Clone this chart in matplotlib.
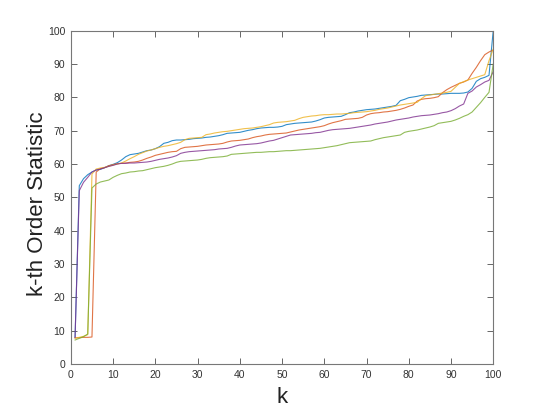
import matplotlib
matplotlib.use('Agg')
import matplotlib.pyplot as plt
import numpy as np

# sorted samples, one list per run (k = 1..100)
k = list(range(1, 101))

run_blue = [
    8.0, 53.5, 55.6, 56.8, 57.6, 58.2, 58.4, 58.9, 59.5, 59.9,
    60.4, 61.2, 62.2, 62.8, 63.0, 63.2, 63.6, 64.0, 64.2, 64.6,
    65.2, 66.2, 66.5, 67.0, 67.2, 67.2, 67.3, 67.4, 67.6, 67.7,
    67.8, 68.0, 68.1, 68.3, 68.5, 68.8, 69.2, 69.3, 69.4, 69.5,
    69.8, 70.1, 70.3, 70.6, 70.8, 70.9, 71.0, 71.0, 71.1, 71.3,
    71.8, 72.0, 72.2, 72.3, 72.4, 72.5, 72.6, 72.9, 73.3, 73.8,
    74.0, 74.1, 74.2, 74.3, 74.8, 75.4, 75.6, 75.9, 76.1, 76.3,
    76.4, 76.5, 76.7, 76.9, 77.1, 77.3, 77.6, 79.0, 79.4, 79.9,
    80.1, 80.3, 80.6, 80.7, 80.8, 80.9, 81.0, 81.0, 81.1, 81.2,
    81.2, 81.2, 81.3, 81.6, 82.7, 84.8, 85.6, 86.0, 86.6, 100.0,
]

run_orange = [
    7.8, 7.9, 8.0, 8.0, 8.1, 57.6, 58.6, 58.9, 59.5, 59.8,
    60.1, 60.2, 60.3, 60.5, 60.6, 60.8, 61.2, 61.7, 62.1, 62.6,
    62.9, 63.2, 63.5, 63.7, 63.8, 64.6, 65.0, 65.1, 65.2, 65.3,
    65.5, 65.7, 65.8, 65.9, 66.0, 66.2, 66.6, 66.9, 67.0, 67.1,
    67.3, 67.5, 67.9, 68.2, 68.4, 68.7, 68.9, 69.0, 69.1, 69.2,
    69.3, 69.6, 69.9, 70.2, 70.4, 70.6, 70.8, 71.0, 71.2, 71.5,
    72.0, 72.4, 72.7, 73.0, 73.4, 73.5, 73.6, 73.7, 74.0, 74.7,
    75.1, 75.3, 75.4, 75.6, 75.7, 75.9, 76.1, 76.4, 76.8, 77.3,
    77.7, 78.9, 79.4, 79.6, 79.7, 79.9, 80.2, 81.4, 82.3, 83.0,
    83.6, 84.2, 84.6, 85.2, 87.2, 89.0, 91.0, 92.8, 93.6, 94.2,
]

run_yellow = [
    7.8, 8.0, 8.3, 8.8, 57.0, 58.5, 58.8, 59.0, 59.3, 59.7,
    60.0, 60.3, 60.9, 61.6, 62.2, 62.9, 63.4, 63.9, 64.2, 64.6,
    65.0, 65.3, 65.5, 65.8, 66.1, 66.5, 67.3, 67.7, 67.8, 67.9,
    68.0, 68.8, 69.0, 69.3, 69.5, 69.7, 69.8, 70.0, 70.2, 70.4,
    70.6, 70.7, 70.8, 71.0, 71.2, 71.5, 71.8, 72.3, 72.5, 72.6,
    72.7, 72.9, 73.1, 73.6, 74.0, 74.2, 74.4, 74.5, 74.7, 74.8,
    74.8, 74.9, 75.0, 75.0, 75.1, 75.2, 75.4, 75.5, 75.6, 75.7,
    75.9, 76.1, 76.4, 76.6, 76.8, 77.1, 77.4, 77.7, 77.9, 78.1,
    78.3, 78.5, 79.6, 80.5, 80.7, 80.9, 81.1, 81.3, 81.5, 81.8,
    83.0, 84.2, 84.7, 85.2, 85.6, 86.0, 86.4, 86.8, 91.0, 94.5,
]

run_purple = [
    8.0, 52.0, 54.5, 56.0, 57.6, 58.2, 58.5, 58.9, 59.3, 59.6,
    60.0, 60.2, 60.2, 60.3, 60.3, 60.4, 60.5, 60.6, 60.8, 61.1,
    61.4, 61.6, 61.8, 62.1, 62.5, 63.2, 63.5, 63.7, 63.8, 63.9,
    64.0, 64.1, 64.2, 64.3, 64.5, 64.6, 64.7, 65.0, 65.4, 65.7,
    65.8, 65.9, 66.0, 66.1, 66.3, 66.6, 66.9, 67.1, 67.5, 67.9,
    68.3, 68.7, 68.8, 68.9, 69.0, 69.1, 69.2, 69.4, 69.5, 69.8,
    70.1, 70.3, 70.4, 70.5, 70.6, 70.7, 70.9, 71.1, 71.3, 71.5,
    71.7, 72.0, 72.2, 72.4, 72.6, 72.9, 73.2, 73.4, 73.6, 73.8,
    74.1, 74.3, 74.5, 74.6, 74.7, 74.9, 75.1, 75.4, 75.6, 76.0,
    76.6, 77.4, 78.0, 81.2, 81.9, 83.1, 83.8, 84.6, 85.1, 87.7,
]

run_green = [
    7.2, 7.7, 8.2, 9.0, 52.8, 54.0, 54.6, 54.9, 55.2, 56.0,
    56.6, 57.1, 57.3, 57.6, 57.7, 57.9, 58.0, 58.3, 58.6, 58.9,
    59.1, 59.3, 59.6, 60.0, 60.5, 60.8, 60.9, 61.0, 61.1, 61.2,
    61.4, 61.7, 61.9, 62.0, 62.1, 62.2, 62.4, 62.9, 63.0, 63.1,
    63.2, 63.3, 63.4, 63.5, 63.5, 63.6, 63.7, 63.7, 63.8, 63.9,
    64.0, 64.0, 64.1, 64.2, 64.3, 64.4, 64.5, 64.6, 64.7, 64.9,
    65.1, 65.3, 65.5, 65.8, 66.1, 66.4, 66.5, 66.6, 66.7, 66.8,
    66.9, 67.3, 67.6, 67.9, 68.1, 68.3, 68.5, 68.7, 69.5, 69.8,
    70.0, 70.2, 70.5, 70.8, 71.1, 71.5, 72.2, 72.4, 72.6, 72.8,
    73.2, 73.7, 74.3, 74.8, 75.6, 77.0, 78.4, 80.0, 81.5, 90.0,
]

runs = [run_blue, run_orange, run_yellow, run_purple, run_green]
colors = ['#0072BD', '#D95319', '#EDB120', '#7E2F8E', '#77AC30']

plt.rcParams['font.family'] = ['Liberation Sans', 'DejaVu Sans']

fig = plt.figure(figsize=(5.45, 4.09), dpi=100)
ax = fig.add_axes([0.13, 0.11, 0.775, 0.815])

for vals, c in zip(runs, colors):
    ax.plot(k, vals, color=c, linewidth=0.8, alpha=0.8)

ax.set_xlim(0, 100)
ax.set_ylim(0, 100)
ax.set_xticks(np.arange(0, 101, 10))
ax.set_yticks(np.arange(0, 101, 10))
ax.tick_params(direction='in', length=4, width=0.7, top=True, right=True,
               labelsize=7.5, colors='#666666', labelcolor='#333333', pad=4)
for s in ax.spines.values():
    s.set_color('#777777')
    s.set_linewidth(0.8)

ax.set_xlabel('k', fontsize=16, color='#222222', labelpad=5)
ax.set_ylabel('k-th Order Statistic', fontsize=16, color='#222222')
ax.yaxis.set_label_coords(-0.055, 0.48)

fig.savefig('out.png', dpi=100)
